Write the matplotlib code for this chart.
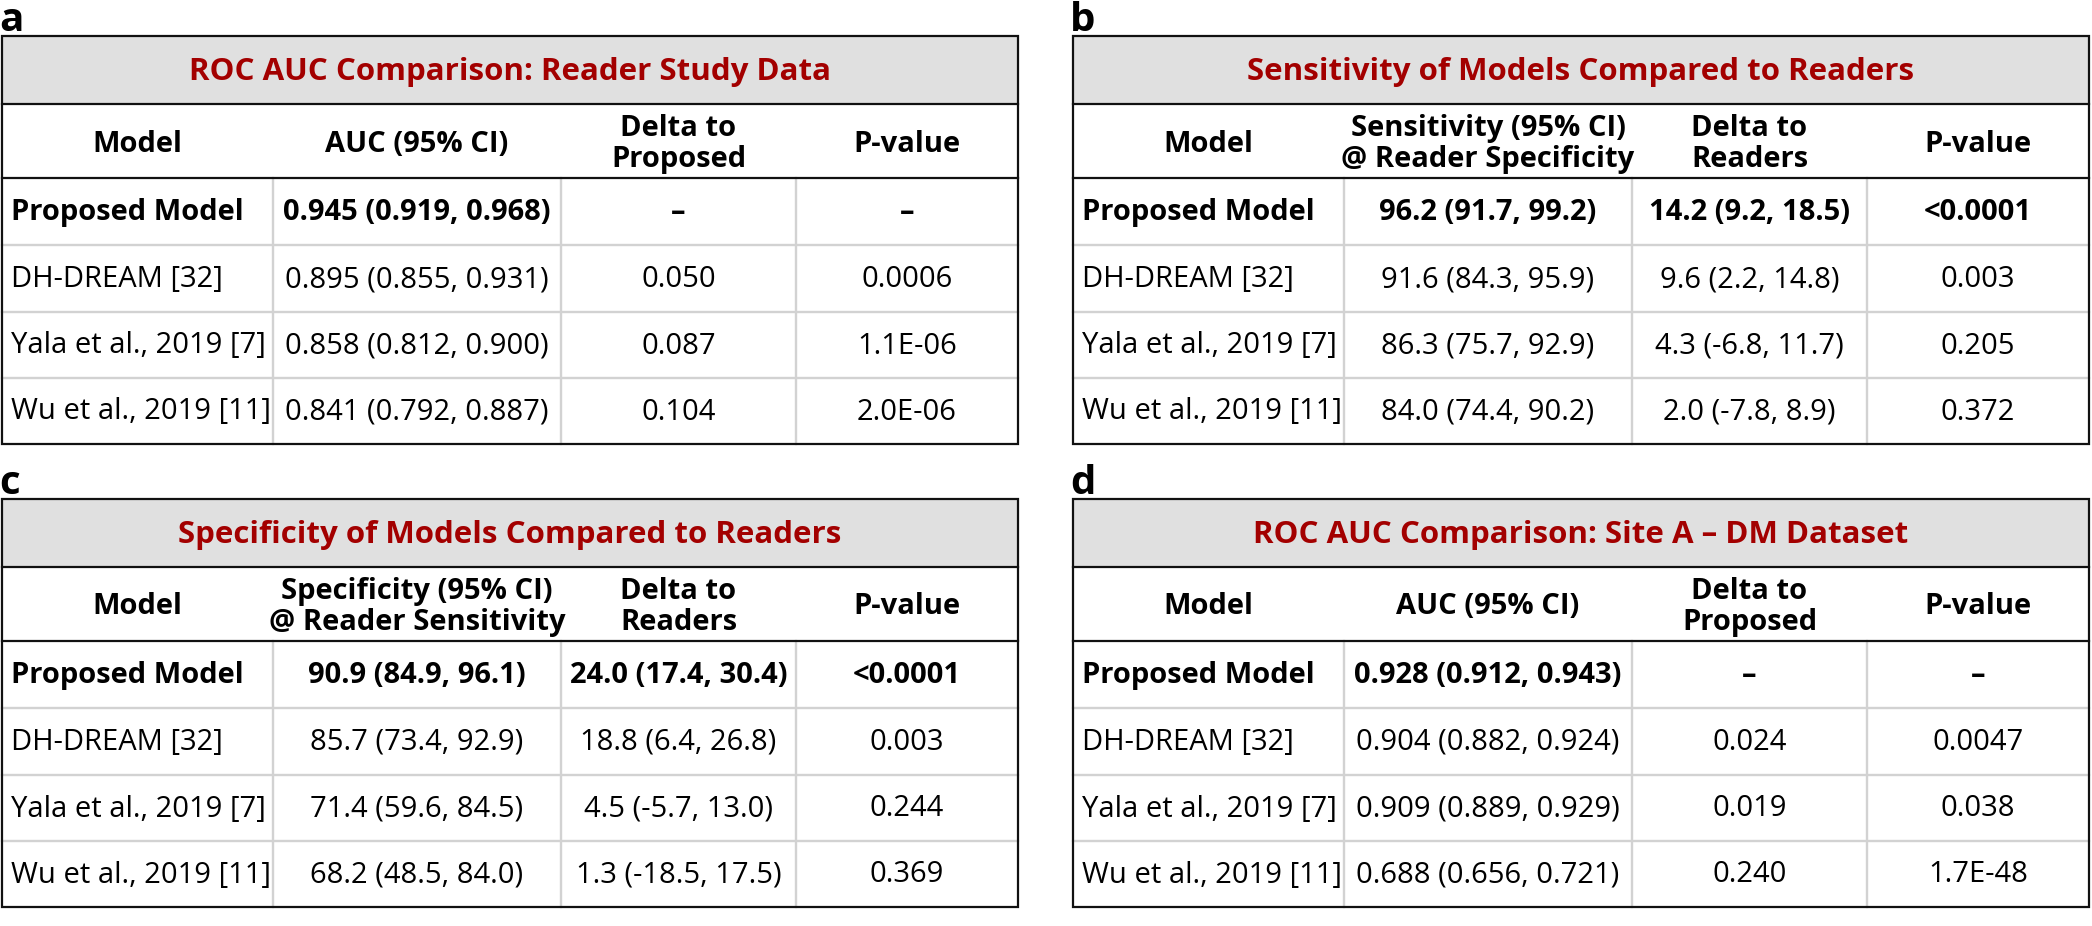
import matplotlib
matplotlib.use("Agg")
import matplotlib.pyplot as plt
from matplotlib.patches import Rectangle

plt.rcParams['font.family'] = ['Open Sans', 'DejaVu Sans']

# data
models = ["Proposed Model", "DH-DREAM [32]", "Yala et al., 2019 [7]", "Wu et al., 2019 [11]"]

a_title = "ROC AUC Comparison: Reader Study Data"
a_headers = ["Model", "AUC (95% CI)", "Delta to\nProposed", "P-value"]
a_auc = ["0.945 (0.919, 0.968)", "0.895 (0.855, 0.931)", "0.858 (0.812, 0.900)", "0.841 (0.792, 0.887)"]
a_delta = ["–", "0.050", "0.087", "0.104"]
a_pval = ["–", "0.0006", "1.1E-06", "2.0E-06"]

b_title = "Sensitivity of Models Compared to Readers"
b_headers = ["Model", "Sensitivity (95% CI)\n@ Reader Specificity", "Delta to\nReaders", "P-value"]
b_sens = ["96.2 (91.7, 99.2)", "91.6 (84.3, 95.9)", "86.3 (75.7, 92.9)", "84.0 (74.4, 90.2)"]
b_delta = ["14.2 (9.2, 18.5)", "9.6 (2.2, 14.8)", "4.3 (-6.8, 11.7)", "2.0 (-7.8, 8.9)"]
b_pval = ["<0.0001", "0.003", "0.205", "0.372"]

c_title = "Specificity of Models Compared to Readers"
c_headers = ["Model", "Specificity (95% CI)\n@ Reader Sensitivity", "Delta to\nReaders", "P-value"]
c_spec = ["90.9 (84.9, 96.1)", "85.7 (73.4, 92.9)", "71.4 (59.6, 84.5)", "68.2 (48.5, 84.0)"]
c_delta = ["24.0 (17.4, 30.4)", "18.8 (6.4, 26.8)", "4.5 (-5.7, 13.0)", "1.3 (-18.5, 17.5)"]
c_pval = ["<0.0001", "0.003", "0.244", "0.369"]

d_title = "ROC AUC Comparison: Site A – DM Dataset"
d_headers = ["Model", "AUC (95% CI)", "Delta to\nProposed", "P-value"]
d_auc = ["0.928 (0.912, 0.943)", "0.904 (0.882, 0.924)", "0.909 (0.889, 0.929)", "0.688 (0.656, 0.721)"]
d_delta = ["–", "0.024", "0.019", "0.240"]
d_pval = ["–", "0.0047", "0.038", "1.7E-48"]

panels = [
    ("a", a_title, a_headers, [models, a_auc, a_delta, a_pval]),
    ("b", b_title, b_headers, [models, b_sens, b_delta, b_pval]),
    ("c", c_title, c_headers, [models, c_spec, c_delta, c_pval]),
    ("d", d_title, d_headers, [models, d_auc, d_delta, d_pval]),
]

# layout (pixels)
W, H = 2092, 926
origins = [(2, 36), (1073, 36), (2, 499), (1073, 499)]
col_edges = [0, 271, 559, 794, 1016]
row_edges = [0, 68, 142, 209, 276, 342, 408]

RED = '#A30000'
GREY_BG = '#E0E0E0'
GRID = '#D2D2D2'
FS = 21
FS_TITLE = 22.5

fig = plt.figure(figsize=(W / 100, H / 100), dpi=100)
ax = fig.add_axes([0, 0, 1, 1])
ax.set_xlim(0, W)
ax.set_ylim(H, 0)
ax.axis('off')

for (label, title, headers, cols), (x0, y0) in zip(panels, origins):
    xs = [x0 + c for c in col_edges]
    ys = [y0 + r for r in row_edges]
    right = xs[-1]

    # panel letter
    ax.text(x0 - 3, y0 - 5, label, fontsize=29, fontweight='bold', ha='left', va='baseline')

    # title band
    ax.add_patch(Rectangle((xs[0], ys[0]), right - xs[0], ys[1] - ys[0],
                           facecolor=GREY_BG, edgecolor='none', zorder=0))
    ax.text((xs[0] + right) / 2, (ys[0] + ys[1]) / 2 + 2, title, color=RED,
            fontsize=FS_TITLE, fontweight='bold', ha='center', va='center')

    # header
    for j, h in enumerate(headers):
        ax.text((xs[j] + xs[j + 1]) / 2, (ys[1] + ys[2]) / 2 + 3, h, fontsize=FS,
                fontweight='bold', ha='center', va='center', linespacing=1.05)

    # body
    for i in range(len(models)):
        yc = (ys[2 + i] + ys[3 + i]) / 2 + 1
        weight = 'bold' if i == 0 else 'normal'
        for j, col in enumerate(cols):
            if j == 0:
                ax.text(xs[0] + 9, yc, col[i], fontsize=FS, fontweight=weight,
                        ha='left', va='center')
            else:
                ax.text((xs[j] + xs[j + 1]) / 2, yc, col[i], fontsize=FS,
                        fontweight=weight, ha='center', va='center')

    # grey grid inside the body
    for r in ys[3:-1]:
        ax.plot([xs[0], right], [r, r], color=GRID, lw=1.7, zorder=1)
    for c in xs[1:-1]:
        ax.plot([c, c], [ys[2], ys[-1]], color=GRID, lw=1.7, zorder=1)

    # black rules
    for r in (ys[1], ys[2]):
        ax.plot([xs[0], right], [r, r], color='#111111', lw=1.6, zorder=2)
    ax.add_patch(Rectangle((xs[0], ys[0]), right - xs[0], ys[-1] - ys[0],
                           facecolor='none', edgecolor='#111111', lw=1.6, zorder=3))

fig.savefig("out.png", dpi=100)
